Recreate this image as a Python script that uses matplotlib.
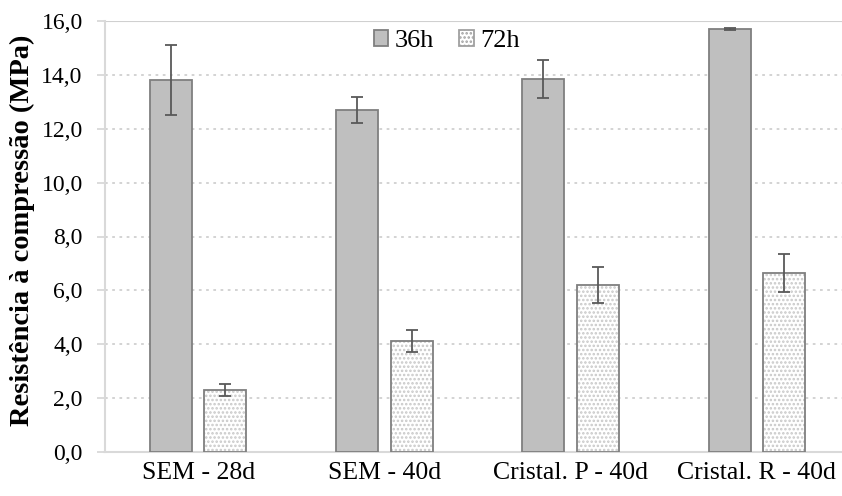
import matplotlib
matplotlib.use("Agg")
import matplotlib.pyplot as plt
from matplotlib.patches import Patch
import numpy as np

categories = ["SEM - 28d", "SEM - 40d", "Cristal. P - 40d", "Cristal. R - 40d"]
series_names = ["36h", "72h"]
vals_36h = [13.8, 12.7, 13.85, 15.7]
err_36h = [1.3, 0.48, 0.7, 0.04]
vals_72h = [2.3, 4.12, 6.2, 6.65]
err_72h = [0.23, 0.4, 0.68, 0.7]
yticks = [0, 2, 4, 6, 8, 10, 12, 14, 16]
ytick_labels = ["0,0", "2,0", "4,0", "6,0", "8,0", "10,0", "12,0", "14,0", "16,0"]

plt.rcParams['font.family'] = ['Liberation Serif', 'DejaVu Serif']
plt.rcParams['hatch.linewidth'] = 1.2

AX_W = 745
fig = plt.figure(figsize=(8.42, 4.96), dpi=100)
ax = fig.add_axes([105/842, 1 - 452/496, AX_W/842, 431/496])

x = np.arange(len(categories))
w = 0.225
off = 0.146
ecol = "#7f7f7f"
errkw = dict(ecolor="#595959", elinewidth=1.3, capsize=4, capthick=1.3)

ax.bar(x - off, vals_36h, w, color="#bfbfbf", edgecolor=ecol, linewidth=1.3,
       yerr=err_36h, error_kw=errkw, zorder=3, label=series_names[0])
# hatched dotted fill
ax.bar(x + off, vals_72h, w, color="white", edgecolor="#c8c8c8", linewidth=0,
       hatch="....", zorder=3)
ax.bar(x + off, vals_72h, w, color="none", edgecolor=ecol, linewidth=1.3,
       yerr=err_72h, error_kw=errkw, zorder=4)

# legend proxies
h1 = Patch(facecolor="#bfbfbf", edgecolor=ecol, linewidth=1.3)
h2 = Patch(facecolor="white", edgecolor="#a0a0a0", linewidth=1.3, hatch="....")
ax.legend([h1, h2], series_names, loc="center",
          bbox_to_anchor=((447 - 105) / AX_W, 0.953),
          ncol=2, frameon=False, fontsize=19, handlelength=0.55, handleheight=0.55,
          handletextpad=0.25, columnspacing=0.95, borderaxespad=0.0, borderpad=0.0)

ax.set_ylim(0, 16)
ax.set_xlim(-0.5, 3.5)
ax.set_yticks(yticks)
ax.set_yticklabels(ytick_labels, fontsize=17)
ax.set_xticks(x)
ax.set_xticklabels(categories, fontsize=18.5)
ax.tick_params(axis="x", length=0, pad=7)
ax.tick_params(axis="y", length=6, color="#d9d9d9", width=1.3, pad=10)

for y in yticks[1:-1]:
    ax.axhline(y, color="#d0d0d0", linestyle=(0, (1.5, 2.5)), linewidth=1.3, zorder=1)
ax.axhline(16, color="#d0d0d0", linewidth=1.5, zorder=1)

for s in ["top", "right"]:
    ax.spines[s].set_visible(False)
for s in ["left", "bottom"]:
    ax.spines[s].set_color("#d9d9d9")
    ax.spines[s].set_linewidth(1.5)

ax.set_ylabel("Resistência à compressão (MPa)", fontsize=20.5, fontweight="bold")
ax.yaxis.set_label_coords(-(105 - 35) / AX_W, (452 - 230) / 431)

fig.savefig("out.png", dpi=100)
